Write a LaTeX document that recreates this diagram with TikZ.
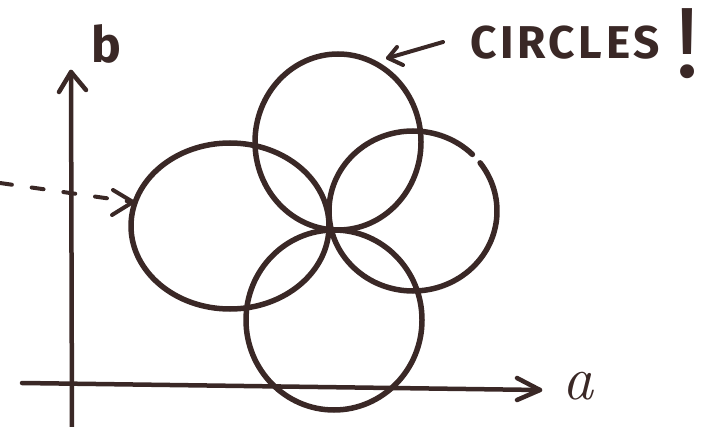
\documentclass[tikz,border=0pt]{standalone}
\usepackage{fontspec}
\newfontfamily\handfont{Fira Sans}
\definecolor{ink}{RGB}{58,40,38}
\begin{document}
\begin{tikzpicture}[x=1pt,y=1pt,
  ink line/.style={draw=ink,line width=5.5pt,line cap=round,line join=round},
  axis line/.style={draw=ink,line width=4.5pt,line cap=round,line join=round},
  thin line/.style={draw=ink,line width=4pt,line cap=round,line join=round},
  label text/.style={text=ink,inner sep=0pt}]
\useasboundingbox (0,0) rectangle (711,426);
% axes
\coordinate (yfoot) at (72,-8);
\coordinate (ytip) at (71,354);
\coordinate (xfoot) at (22,43);
\coordinate (xtip) at (540,36);
\draw[axis line] (yfoot) -- (ytip);
\draw[axis line] (59,334) -- (ytip) -- (86,336);
\draw[axis line] (xfoot) -- (xtip);
\draw[axis line] (517,48) -- (xtip) -- (517,26);
\node[label text,font=\handfont\bfseries\fontsize{50}{50}\selectfont] (b) at (106,382) {b};
\node[label text,font=\fontsize{62}{62}\selectfont\itshape] (a) at (578,40) {a};
% circles
\draw[ink line] (338,284) ellipse [x radius=83, y radius=88];
\draw[ink line] (230,200) ellipse [x radius=99, y radius=83];
\draw[ink line] (334,106) ellipse [x radius=88, y radius=90];
\draw[ink line] (413,215) ++(45:84 and 80) arc [start angle=45, end angle=397, x radius=84, y radius=80];
% dashed pointer
\coordinate (dstart) at (0,243);
\coordinate (dtip) at (133,224);
\draw[thin line, dash pattern=on 12pt off 20pt] (dstart) -- (dtip);
\draw[thin line] (113,236) -- (dtip) -- (112,211);
% label with arrow
\node[label text,font=\handfont\bfseries\fontsize{46}{46}\selectfont\addfontfeatures{LetterSpace=8}] (lbl) at (565,383) {CIRCLES};
\node[label text,font=\handfont\fontsize{100}{100}\selectfont] (bang) at (688,382) {!};
\coordinate (atip) at (388,368);
\draw[thin line] (443,384) -- (atip);
\draw[thin line] (397,379) -- (atip) -- (403,361);
\end{tikzpicture}
\end{document}
